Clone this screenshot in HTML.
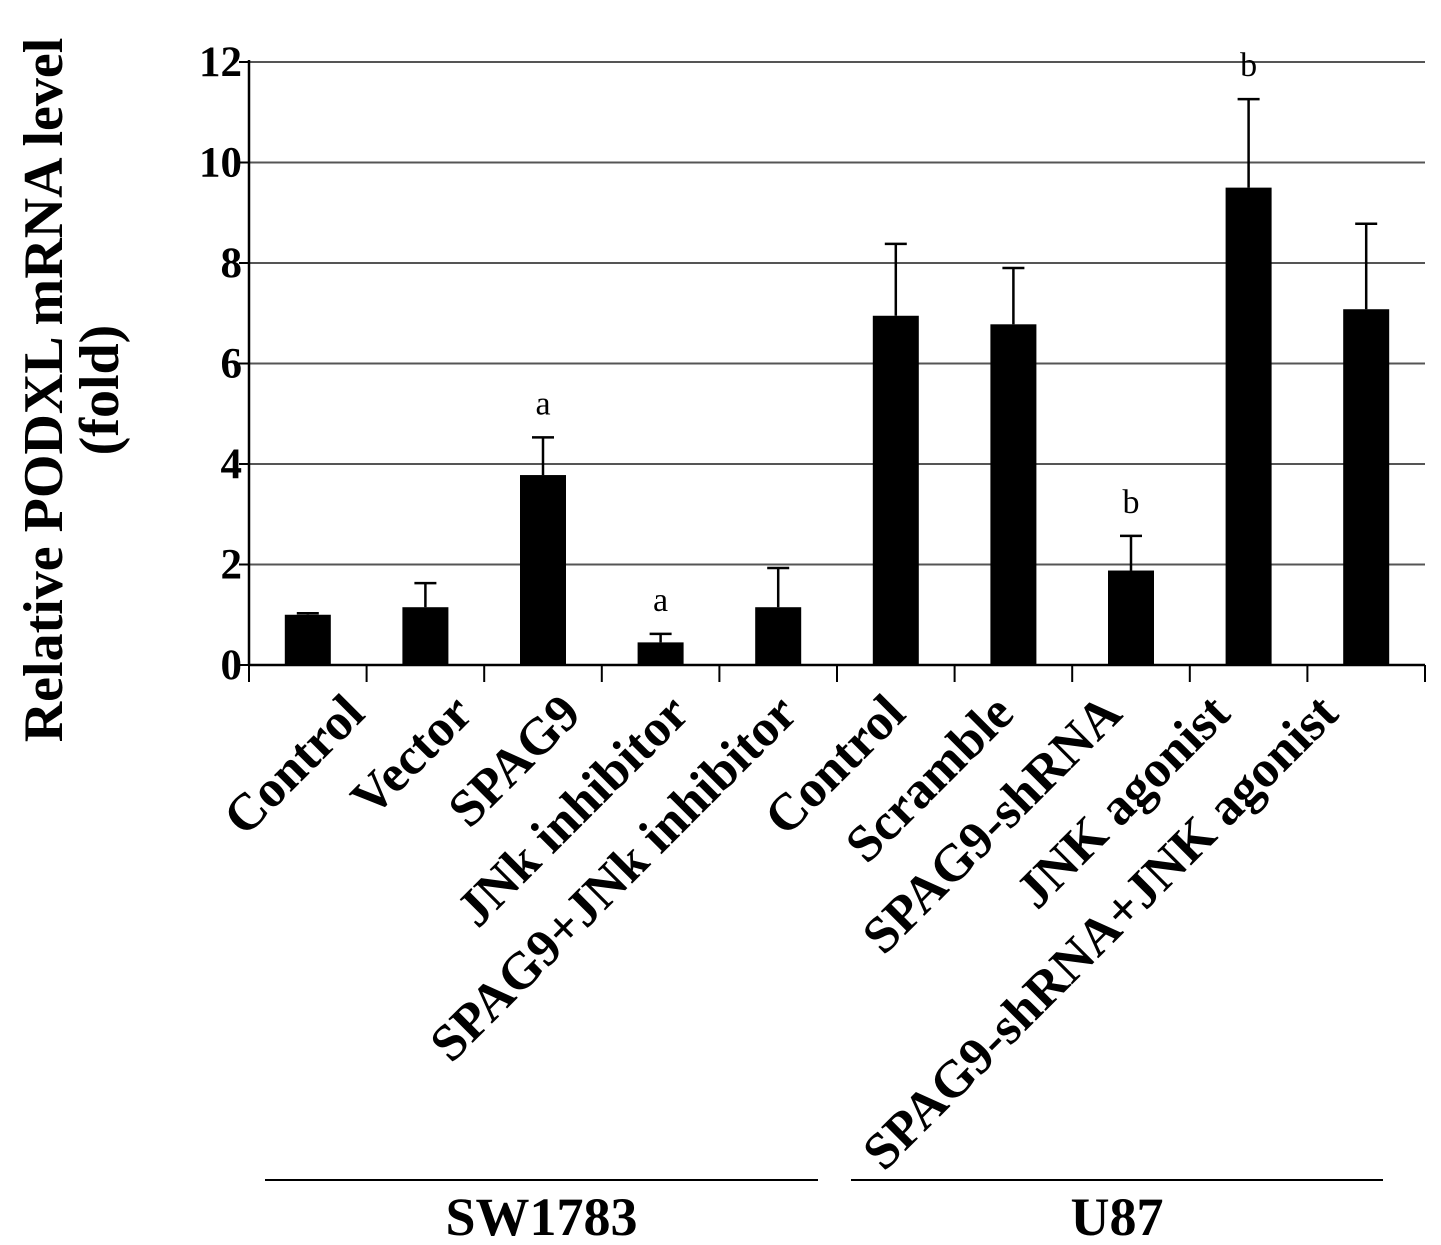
<!DOCTYPE html>
<html><head><meta charset="utf-8"><style>
body{margin:0;background:#fff}
svg text{font-family:"Liberation Serif",serif}
</style></head><body>
<svg id="chart" width="1441" height="1240" xmlns="http://www.w3.org/2000/svg"></svg>
<script>
const categories=["Control","Vector","SPAG9","JNk inhibitor","SPAG9+JNk inhibitor","Control","Scramble","SPAG9-shRNA","JNK agonist","SPAG9-shRNA+JNK agonist"];
const means=[1.0,1.15,3.78,0.45,1.15,6.95,6.78,1.88,9.5,7.08];
const errTops=[1.03,1.63,4.53,0.62,1.93,8.38,7.9,2.57,11.26,8.78];
const sigLabels=["","","a","a","","","","b","b",""];
const yTicks=[0,2,4,6,8,10,12];
const groupNames=["SW1783","U87"];

const svg=document.getElementById('chart');
const NS="http://www.w3.org/2000/svg";
const x0=249,x1=1425,yTop=62,yBot=665,yMax=12;
const bw=(x1-x0)/categories.length;
const y=v=>yBot-(v/yMax)*(yBot-yTop);
const xc=i=>x0+bw*(i+0.5);
function el(tag,attrs,parent){const e=document.createElementNS(NS,tag);for(const k in attrs)e.setAttribute(k,attrs[k]);(parent||svg).appendChild(e);return e;}

yTicks.forEach(t=>{
  if(t>0){const g=el('line',{x1:x0,x2:x1,y1:y(t),y2:y(t),stroke:'#555','stroke-width':2});
  
  }
  const tk=el('line',{x1:x0-10,x2:x0,y1:y(t),y2:y(t),stroke:'#000','stroke-width':2});
  
  
  const tx=el('text',{x:242,y:y(t)+14,'text-anchor':'end','font-size':43,'font-weight':'bold'});
  tx.textContent=t;
  
  
});
const ya=el('line',{x1:x0,x2:x0,y1:yTop-2,y2:yBot,stroke:'#000','stroke-width':2.5});


const xa=el('line',{x1:x0,x2:x1,y1:yBot,y2:yBot,stroke:'#000','stroke-width':2.5});


for(let i=0;i<=categories.length;i++){
  const t=el('line',{x1:x0+bw*i,x2:x0+bw*i,y1:yBot,y2:yBot+17,stroke:'#000','stroke-width':2});
  
  
}
categories.forEach((c,i)=>{
  const cx=xc(i),w=46;
  const e=el('line',{x1:cx,x2:cx,y1:y(means[i]),y2:y(errTops[i]),stroke:'#000','stroke-width':2.5});
  
  
  const cap=el('line',{x1:cx-11,x2:cx+11,y1:y(errTops[i]),y2:y(errTops[i]),stroke:'#000','stroke-width':2.5});
  
  
  const b=el('rect',{x:cx-w/2,y:y(means[i]),width:w,height:yBot-y(means[i]),fill:'#000'});
  
  
  if(sigLabels[i]){
    const s=el('text',{x:cx,y:y(errTops[i])-23,'text-anchor':'middle','font-size':34});
    s.textContent=sigLabels[i];
    
    
  }
  const lx=xc(0)+59+i*bw*0.92,ly=716;
  const l=el('text',{x:lx,y:ly,'text-anchor':'end','font-size':52,'font-weight':'bold',transform:`rotate(-45 ${lx} ${ly})`});
  l.textContent=c;
  
  
});
const groupSpans=[[265,818],[851,1383]];
groupNames.forEach((g,k)=>{
  const [a,b]=groupSpans[k];
  const ln=el('line',{x1:a,x2:b,y1:1180,y2:1180,stroke:'#000','stroke-width':2});
  
  
  const t=el('text',{x:(a+b)/2,y:1235,'text-anchor':'middle','font-size':54,'font-weight':'bold'});
  t.textContent=g;
  
  
});
const yt=el('text',{transform:'translate(0 390) rotate(-90)','text-anchor':'middle','font-size':56,'font-weight':'bold'});


const t1=el('tspan',{x:0,y:62},yt);t1.textContent='Relative PODXL mRNA level';
const t2=el('tspan',{x:0,y:118},yt);t2.textContent='(fold)';
</script>
</body></html>
